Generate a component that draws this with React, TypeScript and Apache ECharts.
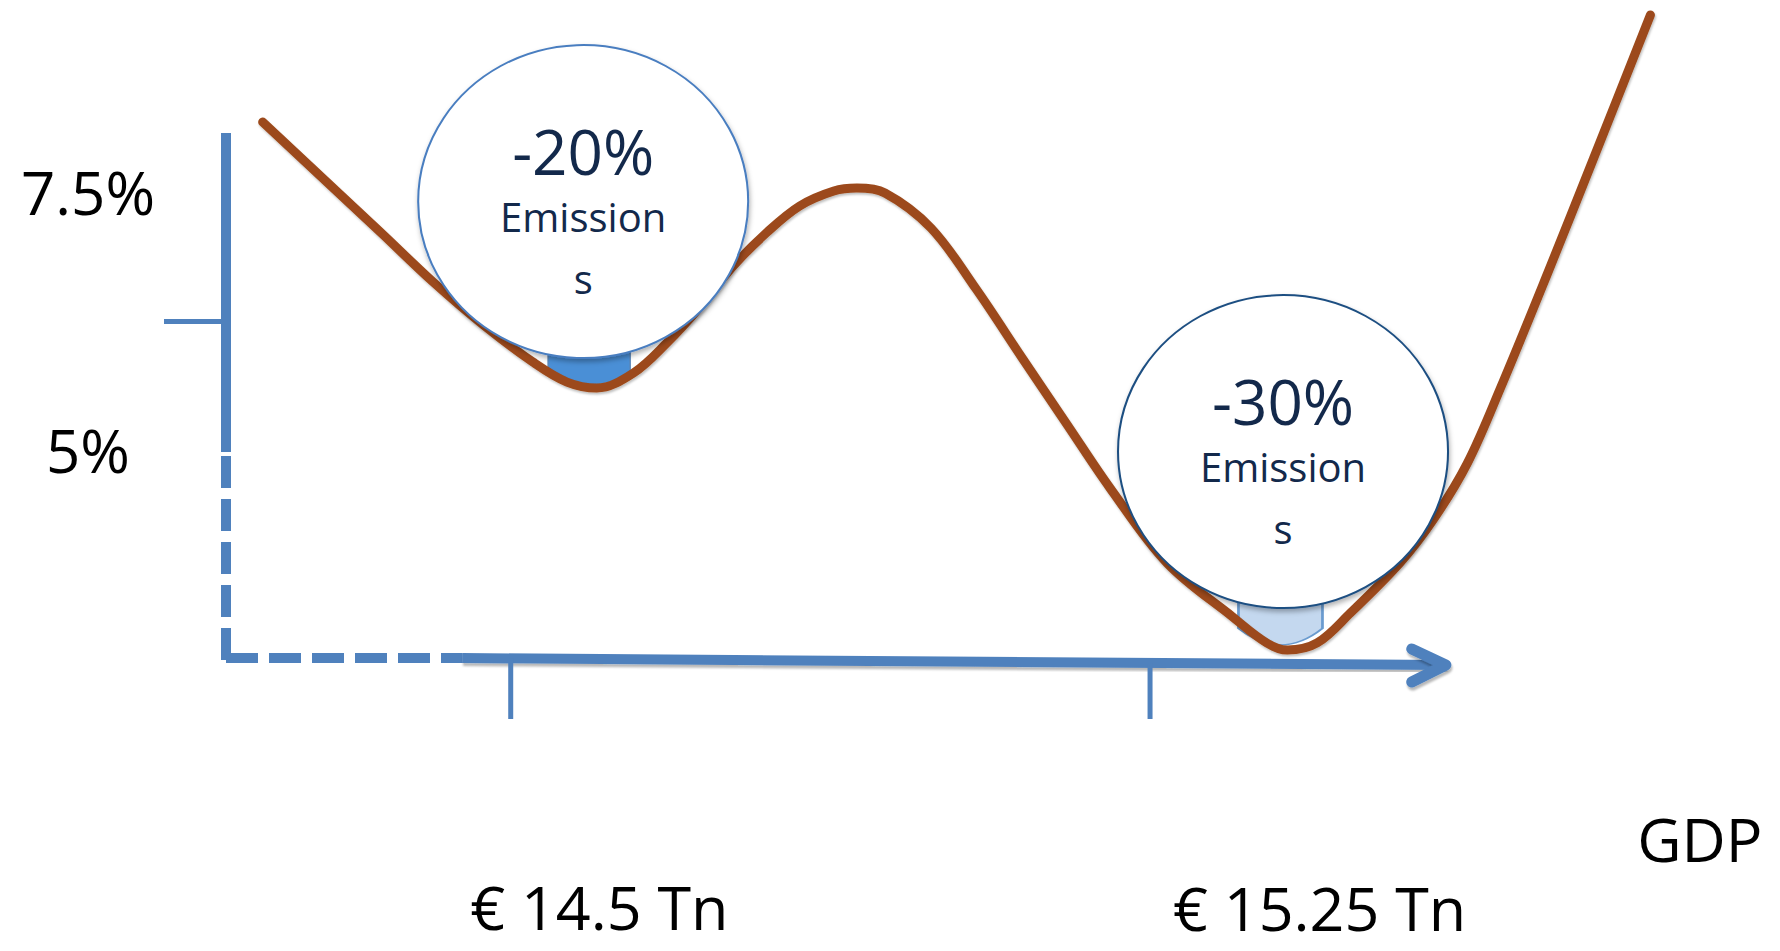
import React, { useEffect, useRef } from 'react';
import * as echarts from 'echarts';

// ---- data (GDP in € Tn on x, growth rate in % on y) ----
const gdpRange = [14.166, 15.989];
const rateRange = [0.15, 9.36];

const yLabelValues = [5, 7.5];
const yMidTickValues = [6.25];

const xTickValues = [14.5, 15.25];
const xTickTops = [2.984, 2.939];
const xTickBottom = 2.397;
const xTickLabels = ['€ 14.5 Tn', '€ 15.25 Tn'];
const xTickLabelPoints = [
  [14.604, 0.58],
  [15.449, 0.57],
];
const gdpTitle = 'GDP';
const gdpTitlePoint = [15.895, 1.235];

const curvePoints = [
  [14.209, 8.178], [14.347, 7.113], [14.409, 6.629], [14.468, 6.212],
  [14.526, 5.854], [14.566, 5.66], [14.601, 5.602], [14.644, 5.748],
  [14.683, 6.038], [14.722, 6.387], [14.761, 6.784], [14.801, 7.113],
  [14.839, 7.365], [14.879, 7.51], [14.906, 7.539], [14.939, 7.491],
  [14.993, 7.152], [15.046, 6.561], [15.1, 5.893], [15.153, 5.244],
  [15.203, 4.634], [15.27, 3.907], [15.347, 3.385], [15.387, 3.133],
  [15.411, 3.065], [15.446, 3.133], [15.485, 3.423], [15.543, 3.907],
  [15.582, 4.324], [15.622, 4.87], [15.661, 5.6], [15.717, 6.726],
  [15.77, 7.82], [15.837, 9.215],
];

const emissionCuts = ['-20%', '-30%'];
const emissionWord = ['Emission', 's'];
const circleCenters = [
  [14.585, 7.408],
  [15.406, 4.987],
];
const bowlCenters = [
  [14.592, 5.801],
  [15.403, 3.331],
];

const yAxisSolid = [[14.166, 8.072], [14.166, 4.982]];
const yAxisDashed = [[14.166, 4.944], [14.166, 2.968]];
const xAxisDashed = [[14.166, 2.987], [14.443, 2.987]];
const xAxisSolid = [[14.443, 2.987], [15.597, 2.92]];
const arrowHead = [[15.557, 3.075], [15.597, 2.92], [15.557, 2.755]];

const AXIS_BLUE = '#4f81bd';
const FONT = '"Open Sans", "Noto Sans", sans-serif';
const shadow = {
  shadowColor: 'rgba(0,0,0,0.28)',
  shadowBlur: 2,
  shadowOffsetX: 1,
  shadowOffsetY: 3,
};

function lineSeries(data: number[][], extra: any = {}) {
  return {
    type: 'line',
    data,
    symbol: 'none',
    silent: true,
    clip: false,
    z: 2,
    lineStyle: { color: AXIS_BLUE, width: 10, cap: 'butt', ...extra },
  };
}

export default function App() {
  const ref = useRef<HTMLDivElement>(null);

  useEffect(() => {
    if (!ref.current) return;
    const chart = echarts.init(ref.current, undefined, { renderer: 'svg' });

    const series: any[] = [
      // small bowls below the circles
      {
        type: 'scatter',
        z: 1,
        silent: true,
        clip: false,
        symbol: 'path://M0 0H100V60Q50 130 0 60Z',
        data: [
          {
            value: bowlCenters[0],
            symbolSize: [82, 35],
            itemStyle: { color: '#4a8fd6', borderColor: '#5a86b8', borderWidth: 1, opacity: 1 },
          },
          {
            value: bowlCenters[1],
            symbolSize: [84, 45],
            itemStyle: { color: '#c4d8ef', borderColor: '#6a9bcf', borderWidth: 2, opacity: 1 },
          },
        ],
      },
      lineSeries(yAxisSolid),
      lineSeries(yAxisDashed, { type: [32, 11] }),
      lineSeries(xAxisDashed, { type: [32, 11] }),
      lineSeries(xAxisSolid, shadow),
      lineSeries(arrowHead, { width: 11, cap: 'round', join: 'round', ...shadow }),
      ...xTickValues.map((v, i) =>
        lineSeries(
          [
            [v, xTickTops[i]],
            [v, xTickBottom],
          ],
          { width: 5 }
        )
      ),
      // the growth curve
      {
        type: 'line',
        z: 3,
        silent: true,
        clip: false,
        symbol: 'none',
        smooth: 0.35,
        data: curvePoints,
        lineStyle: {
          color: '#9c4a1b',
          width: 9,
          cap: 'round',
          join: 'round',
          shadowColor: 'rgba(0,0,0,0.25)',
          shadowBlur: 2,
          shadowOffsetX: 1,
          shadowOffsetY: 2,
        },
      },
      // emission circles
      {
        type: 'scatter',
        z: 4,
        silent: true,
        clip: false,
        symbol: 'circle',
        symbolSize: [330, 313],
        itemStyle: { opacity: 1 },
        data: circleCenters.map((c, i) => ({
          value: c,
          name: emissionCuts[i],
          itemStyle: {
            opacity: 1,
            color: '#ffffff',
            borderColor: i === 0 ? '#4a7ec0' : '#1f4f82',
            borderWidth: 2,
            shadowColor: 'rgba(0,0,0,0.3)',
            shadowBlur: 5,
            shadowOffsetX: 1,
            shadowOffsetY: 3,
          },
        })),
        label: {
          show: true,
          position: 'inside',
          offset: [0, 11],
          formatter: (p: any) =>
            `{a|${p.name}}\n{b|${emissionWord[0]}}\n{b|${emissionWord[1]}}`,
          rich: {
            a: { fontSize: 62, lineHeight: 70, color: '#13294b', fontFamily: FONT, align: 'center' },
            b: { fontSize: 40, lineHeight: 62, color: '#13294b', fontFamily: FONT, align: 'center' },
          },
        },
      },
      // x labels and axis title
      {
        type: 'scatter',
        z: 5,
        silent: true,
        clip: false,
        symbolSize: 0,
        itemStyle: { opacity: 1 },
        data: [
          ...xTickLabelPoints.map((p, i) => ({ value: p, name: xTickLabels[i] })),
          { value: gdpTitlePoint, name: gdpTitle },
        ],
        label: {
          show: true,
          position: 'inside',
          formatter: (p: any) => p.name,
          fontSize: 61,
          lineHeight: 46,
          color: '#000000',
          fontFamily: FONT,
        },
      },
    ];

    chart.setOption({
      animation: false,
      backgroundColor: '#ffffff',
      grid: {
        left: 226,
        right: 0,
        top: 0,
        bottom: 0,
        containLabel: false,
        outerBoundsMode: 'none',
      },
      xAxis: {
        type: 'value',
        min: gdpRange[0],
        max: gdpRange[1],
        show: false,
      },
      yAxis: {
        type: 'value',
        min: rateRange[0],
        max: rateRange[1],
        axisLine: { show: false },
        splitLine: { show: false },
        axisTick: {
          show: true,
          customValues: yMidTickValues,
          length: 62,
          lineStyle: { color: AXIS_BLUE, width: 5 },
        },
        axisLabel: {
          show: true,
          customValues: yLabelValues,
          formatter: (v: number) => `${v}%`,
          fontSize: 60,
          color: '#000000',
          fontFamily: FONT,
          align: 'center',
          verticalAlign: 'middle',
          margin: 138,
        },
      },
      series,
    });

    return () => chart.dispose();
  }, []);

  return (
    <div
      ref={ref}
      style={{ position: 'fixed', left: 0, top: 0, width: 1780, height: 951, background: '#fff' }}
    />
  );
}
